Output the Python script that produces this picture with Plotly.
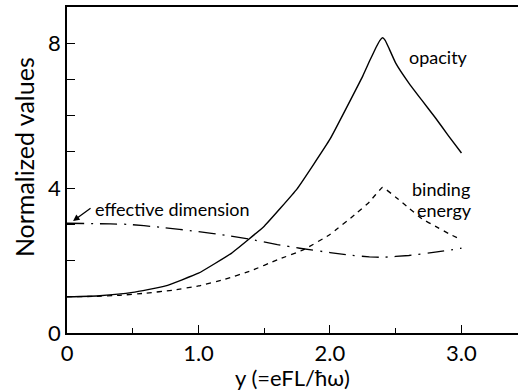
import plotly.graph_objects as go

# ---- data ----
x_op = [0, 0.25, 0.5, 0.75, 1.0, 1.25, 1.5, 1.75, 2.0, 2.25, 2.3, 2.35, 2.38, 2.4, 2.42, 2.45, 2.5, 2.6, 2.7, 2.8, 2.9, 3.0]
opacity = [1.0, 1.03, 1.12, 1.3, 1.65, 2.2, 2.95, 3.98, 5.35, 7.1, 7.5, 7.88, 8.08, 8.15, 8.08, 7.85, 7.45, 6.9, 6.42, 5.95, 5.45, 4.97]

x_be = [0, 0.2, 0.4, 0.6, 0.8, 1.0, 1.2, 1.4, 1.6, 1.8, 2.0, 2.2, 2.3, 2.4, 2.5, 2.6, 2.7, 2.8, 2.9, 3.0]
binding_energy = [1.0, 1.01, 1.04, 1.1, 1.18, 1.3, 1.48, 1.72, 2.02, 2.3, 2.72, 3.3, 3.62, 4.02, 3.75, 3.45, 3.15, 2.95, 2.75, 2.57]

x_ed = [0, 0.2, 0.46, 0.71, 1.0, 1.2, 1.39, 1.6, 1.77, 2.0, 2.15, 2.3, 2.4, 2.6, 2.8, 3.0]
effective_dimension = [3.03, 3.02, 3.0, 2.92, 2.8, 2.7, 2.59, 2.44, 2.34, 2.22, 2.15, 2.1, 2.09, 2.14, 2.23, 2.34]

x_tick_vals = [0, 1, 2, 3]
x_tick_text = ["0", "1.0", "2.0", "3.0"]
x_minor_vals = [0.5, 1.5, 2.5]
y_tick_vals = [0, 1, 2, 3, 4, 5, 6, 7, 8]
y_tick_text = ["0", "", "", "", "4", "", "", "", "8"]

FONT = "Lato"

fig = go.Figure()
fig.add_trace(go.Scatter(x=x_op, y=opacity, mode="lines", line=dict(color="black", width=1.4, shape="spline", smoothing=0.3)))
fig.add_trace(go.Scatter(x=x_be, y=binding_energy, mode="lines", line=dict(color="black", width=1.3, dash="5px,5px", shape="spline", smoothing=0.3)))
fig.add_trace(go.Scatter(x=x_ed, y=effective_dimension, mode="lines", line=dict(color="black", width=1.3, dash="17px,7px,2px,7px", shape="spline", smoothing=0.3)))

ann_font = dict(family=FONT, size=18, color="black")
fig.add_annotation(x=2.585, y=7.61, text="opacity", showarrow=False, xanchor="left", yanchor="middle", font=ann_font)
fig.add_annotation(x=2.61, y=3.98, text="binding", showarrow=False, xanchor="left", yanchor="middle", font=ann_font)
fig.add_annotation(x=2.65, y=3.40, text="energy", showarrow=False, xanchor="left", yanchor="middle", font=ann_font)
fig.add_annotation(x=0.2, y=3.42, text="effective dimension", showarrow=False, xanchor="left", yanchor="middle", font=ann_font)
fig.add_annotation(x=0.046, y=3.09, text="", showarrow=True, ax=19, ay=-14, arrowhead=2, arrowsize=1, arrowwidth=1.3, arrowcolor="black")
# y-axis title placed as a rotated annotation (reference title sits above plot centre)
fig.add_annotation(xref="paper", yref="paper", x=-0.095, y=0.54, text="Normalized values", textangle=-90,
                   showarrow=False, xanchor="center", yanchor="middle", font=dict(family=FONT, size=25, color="black"))

fig.update_layout(
    width=521, height=391,
    margin=dict(l=67, r=3, t=7, b=58, autoexpand=False),
    paper_bgcolor="white", plot_bgcolor="white",
    showlegend=False,
    font=dict(family=FONT, color="black"),
    xaxis=dict(
        range=[0, 3.43], showgrid=False, zeroline=False, automargin=False,
        showline=True, linecolor="black", linewidth=1.5, mirror=True,
        ticks="inside", ticklen=8, tickwidth=1.3, tickcolor="black",
        tickvals=x_tick_vals, ticktext=x_tick_text,
        tickfont=dict(family=FONT, size=22),
        minor=dict(tickvals=x_minor_vals, ticks="inside", ticklen=5, tickwidth=1.3, tickcolor="black"),
        title=dict(text="y (=eFL/ħω)", font=dict(family=FONT, size=22), standoff=2),
    ),
    yaxis=dict(
        range=[0, 9.0], showgrid=False, zeroline=False, automargin=False,
        showline=True, linecolor="black", linewidth=1.5, mirror=False,
        ticks="inside", ticklen=8, tickwidth=1.3, tickcolor="black",
        tickvals=y_tick_vals, ticktext=y_tick_text,
        tickfont=dict(family=FONT, size=22),
    ),
)

fig.write_html("out.html", config={"displayModeBar": False},
               post_script="document.body.style.margin='0px';document.body.style.padding='0px';document.body.style.overflow='hidden';")
